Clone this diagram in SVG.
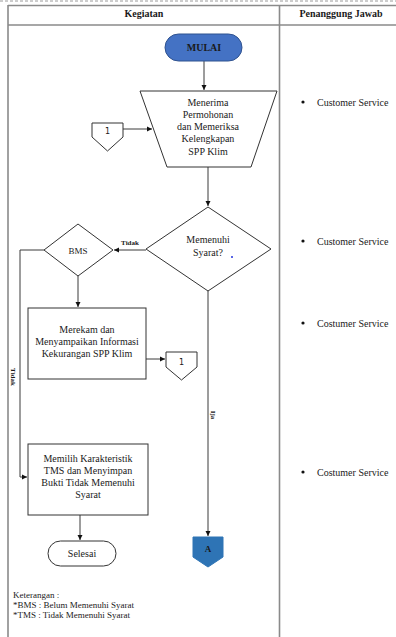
<svg xmlns="http://www.w3.org/2000/svg" width="396" height="637" viewBox="0 0 396 637">
<style>
text{font-family:"Liberation Serif","Times New Roman",serif;fill:#1a1a1a}
.t10{font-size:10px;text-anchor:middle}
.b{font-weight:bold}
.tbl{stroke:#8a8a8a;stroke-width:1.6;fill:none}
.sh{fill:#fff;stroke:#333;stroke-width:1}
.ln{stroke:#3a3a3a;stroke-width:1;fill:none}
.lbl{font-size:7px;font-weight:bold}
.rs{font-size:10px}
</style>
<defs>
<marker id="ah" markerWidth="6" markerHeight="6" refX="5" refY="3" orient="auto" markerUnits="userSpaceOnUse">
<path d="M0,0.5 L5,3 L0,5.5 Z" fill="#111"/>
</marker>
</defs>
<rect width="396" height="637" fill="#fff"/>
<g id="table">
<line x1="0" y1="1" x2="396" y2="1" stroke="#9a9a9a" stroke-width="1" stroke-dasharray="3,2"/>
<line class="tbl" x1="8" y1="5.5" x2="396" y2="5.5"/>
<line class="tbl" x1="8" y1="25" x2="396" y2="25"/>
<line class="tbl" x1="8" y1="5" x2="8" y2="637"/>
<line class="tbl" x1="279.5" y1="5" x2="279.5" y2="637"/>
<text class="t10 b" x="144" y="17">Kegiatan</text>
<text class="t10 b" x="341" y="17">Penanggung Jawab</text>
</g>
<g id="connectors">
<line class="ln" x1="204" y1="61" x2="204" y2="90" marker-end="url(#ah)"/>
<line class="ln" x1="123" y1="129" x2="152" y2="129" marker-end="url(#ah)"/>
<line class="ln" x1="208" y1="167" x2="208" y2="206" marker-end="url(#ah)"/>
<line class="ln" x1="146" y1="250" x2="114" y2="250" marker-end="url(#ah)"/>
<text class="lbl" x="130" y="245" text-anchor="middle">Tidak</text>
<line class="ln" x1="78" y1="276" x2="78" y2="307" marker-end="url(#ah)"/>
<polyline class="ln" points="44,250 20,250 20,477 27,477" marker-end="url(#ah)"/>
<text class="lbl" x="0" y="0" text-anchor="middle" transform="translate(11,377) rotate(90)">Tidak</text>
<line class="ln" x1="146" y1="359" x2="165" y2="359" marker-end="url(#ah)"/>
<line class="ln" x1="80" y1="515" x2="80" y2="540" marker-end="url(#ah)"/>
<line class="ln" x1="208" y1="291" x2="208" y2="536" marker-end="url(#ah)"/>
<text class="lbl" x="0" y="0" text-anchor="middle" transform="translate(211,415) rotate(90)">Ija</text>
</g>
<g id="mulai">
<rect x="165" y="34" width="77" height="27" rx="13.5" fill="#4472c4" stroke="#2f528f" stroke-width="1"/>
<text class="t10 b" x="204" y="51">MULAI</text>
</g>
<g id="menerima">
<polygon class="sh" points="140,91 277,91 251,167 167,167"/>
<text class="t10" x="208" y="106">Menerima</text>
<text class="t10" x="208" y="118">Permohonan</text>
<text class="t10" x="208" y="130">dan Memeriksa</text>
<text class="t10" x="208" y="142">Kelengkapan</text>
<text class="t10" x="208" y="155">SPP Klim</text>
</g>
<g id="conn1a">
<polygon class="sh" points="92,123 123,123 123,137 107.5,151 92,137"/>
<text class="t10" x="107.5" y="134" style="font-family:'DejaVu Sans',sans-serif;font-size:8px">1</text>
</g>
<g id="syarat">
<polygon class="sh" points="208,207 271,249 208,291 146,249"/>
<text class="t10" x="208" y="242.5">Memenuhi</text>
<text class="t10" x="208" y="255.5">Syarat?</text>
<circle cx="232" cy="257" r="1" fill="#2233dd"/>
</g>
<g id="bms">
<polygon class="sh" points="78,224 113,250 78,276 44,250"/>
<text class="t10" x="78" y="253.5" style="font-size:9px">BMS</text>
</g>
<g id="merekam">
<rect class="sh" x="28" y="308" width="118" height="71"/>
<text class="t10" x="87" y="332.5">Merekam dan</text>
<text class="t10" x="87" y="344.5">Menyampaikan Informasi</text>
<text class="t10" x="87" y="356.5">Kekurangan SPP Klim</text>
</g>
<g id="conn1b">
<polygon class="sh" points="166,352 197,352 197,367 181.5,380 166,367"/>
<text class="t10" x="181.5" y="365" style="font-family:'DejaVu Sans',sans-serif;font-size:8px">1</text>
</g>
<g id="memilih">
<rect class="sh" x="28" y="444" width="120" height="71"/>
<text class="t10" x="88" y="461.5">Memilih Karakteristik</text>
<text class="t10" x="88" y="473.8">TMS dan Menyimpan</text>
<text class="t10" x="88" y="486.1">Bukti Tidak Memenuhi</text>
<text class="t10" x="88" y="498.4">Syarat</text>
</g>
<g id="selesai">
<rect class="sh" x="48" y="541" width="68" height="25" rx="12.5"/>
<text class="t10" x="82" y="556.5">Selesai</text>
</g>
<g id="connA">
<polygon points="193,537 223,537 223,557 208,567 193,557" fill="#2e74b5" stroke="#2e74b5" stroke-width="1"/>
<text class="t10 b" x="208" y="552" style="font-size:9px">A</text>
</g>
<g id="keterangan">
<text x="13" y="598" style="font-size:9px">Keterangan :</text>
<text x="13" y="608" style="font-size:9px">*BMS : Belum Memenuhi Syarat</text>
<text x="13" y="618" style="font-size:9px">*TMS : Tidak Memenuhi Syarat</text>
</g>
<g id="pj">
<circle cx="303" cy="102" r="1.6" fill="#111"/>
<text class="rs" x="317" y="105.5">Customer Service</text>
<circle cx="303" cy="241" r="1.6" fill="#111"/>
<text class="rs" x="317" y="244.5">Customer Service</text>
<circle cx="303" cy="323" r="1.6" fill="#111"/>
<text class="rs" x="317" y="326.5">Costumer Service</text>
<circle cx="303" cy="472" r="1.6" fill="#111"/>
<text class="rs" x="317" y="475.5">Costumer Service</text>
</g>
</svg>
